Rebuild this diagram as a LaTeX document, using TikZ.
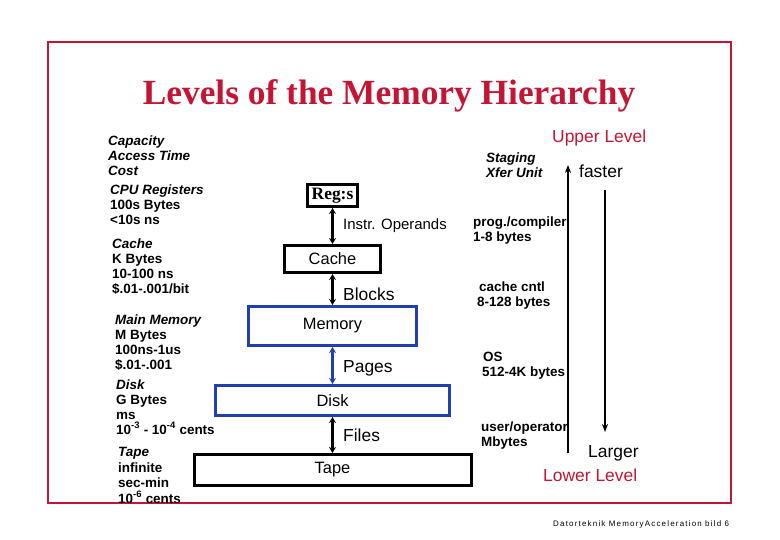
\documentclass[tikz,border=0pt]{standalone}
\usepackage{fontspec}
\setmainfont{Liberation Sans}
\newfontfamily\timesfont{Liberation Serif}
\usetikzlibrary{arrows.meta}
\definecolor{crim}{RGB}{196,22,52}
\definecolor{boxblue}{RGB}{32,64,176}
\tikzset{
  lvlbox/.style={draw=black,line width=3bp,rectangle,inner sep=0pt,font=\fontsize{16.5}{18}\selectfont},
  bluebox/.style={lvlbox,draw=boxblue},
  conn/.style={line width=2.5bp,{Stealth[length=6bp,width=7bp]}-{Stealth[length=6bp,width=7bp]}},
  bconn/.style={conn,draw=boxblue,{Stealth[length=6bp,width=7bp,color=boxblue]}-{Stealth[length=6bp,width=7bp,color=boxblue]}},
  side/.style={anchor=base west,inner sep=0pt,font=\fontsize{13.5}{15}\selectfont\bfseries},
  sidehead/.style={side,font=\fontsize{13.5}{15}\selectfont\bfseries\itshape},
  elabel/.style={anchor=base west,inner sep=0pt,font=\fontsize{17.5}{19}\selectfont},
  biglabel/.style={anchor=base west,inner sep=0pt,font=\fontsize{17.5}{19}\selectfont},
  trend/.style={line width=2bp,-{Stealth[length=8bp,width=6bp]}}
}
\begin{document}
\begin{tikzpicture}[x=1bp,y=-1bp]
\useasboundingbox (0,0) rectangle (780,540);
\fill[white] (0,0) rectangle (780,540);
\draw[crim,line width=2bp] (48,42) rectangle (731,503);
\node[anchor=base,inner sep=0pt,text=crim,font=\timesfont\fontsize{35.5}{38}\selectfont\bfseries] (title) at (389,105) {Levels of the Memory Hierarchy};

% left column
\node[sidehead] (hdr1) at (108,146) {Capacity};
\node[sidehead] (hdr2) at (108,161) {Access Time};
\node[sidehead] (hdr3) at (108,176) {Cost};
\node[sidehead] (cpuh) at (110,195) {CPU Registers};
\node[side] (cpu1) at (110,210) {100s Bytes};
\node[side] (cpu2) at (110,225) {<10s ns};
\node[sidehead] (cacheh) at (112,249) {Cache};
\node[side] (cache1) at (112,264) {K Bytes};
\node[side] (cache2) at (112,279) {10-100 ns};
\node[side] (cache3) at (112,294) {\$.01-.001/bit};
\node[sidehead] (memh) at (115,324) {Main Memory};
\node[side] (mem1) at (115,339) {M Bytes};
\node[side] (mem2) at (115,354) {100ns-1us};
\node[side] (mem3) at (115,369) {\$.01-.001};
\node[sidehead] (diskh) at (116,389) {Disk};
\node[side] (disk1) at (116,404) {G Bytes};
\node[side] (disk2) at (116,419) {ms};
\node[side] (disk3) at (116,434) {10\textsuperscript{-3} - 10\textsuperscript{-4} cents};
\node[sidehead] (tapeh) at (118,456) {Tape};
\node[side] (tape1) at (118,472) {infinite};
\node[side] (tape2) at (118,487) {sec-min};
\node[side] (tape3) at (118,503) {10\textsuperscript{-6} cents};

% boxes
\node[lvlbox,minimum width=50bp,minimum height=22bp,font=\timesfont\fontsize{17.5}{19}\selectfont\bfseries] (reg) at (332.5,195.5) {Reg:s};
\node[lvlbox,minimum width=96bp,minimum height=27bp] (cache) at (332.5,259) {Cache};
\node[bluebox,minimum width=168bp,minimum height=39bp] (mem) at (332.5,326) {Memory};
\node[bluebox,minimum width=234bp,minimum height=30bp] (disk) at (332.5,400.5) {Disk};
\node[lvlbox,minimum width=277bp,minimum height=31bp] (tape) at (332.5,470) {Tape};

\draw[conn] (reg) -- (cache);
\draw[conn] (cache) -- (mem);
\draw[bconn] (mem) -- (disk);
\draw[conn] (disk) -- (tape);

\node[elabel,font=\fontsize{15}{17}\selectfont] (l1) at (343,230) {Instr. Operands};
\node[elabel] (l2) at (343,301) {Blocks};
\node[elabel] (l3) at (343,372) {Pages};
\node[elabel] (l4) at (343,441) {Files};

% right column
\node[sidehead] (stag1) at (486,163) {Staging};
\node[sidehead] (stag2) at (486,178) {Xfer Unit};
\node[side] (r1a) at (473,227) {prog./compiler};
\node[side] (r1b) at (473,242) {1-8 bytes};
\node[side] (r2a) at (479,292) {cache cntl};
\node[side] (r2b) at (477,307) {8-128 bytes};
\node[side] (r3a) at (483,361) {OS};
\node[side] (r3b) at (482,376) {512-4K bytes};
\node[side] (r4a) at (481,431) {user/operator};
\node[side] (r4b) at (481,446) {Mbytes};

\coordinate (upb) at (568,453);
\coordinate (upt) at (568,165);
\coordinate (dnt) at (605,190);
\coordinate (dnb) at (605,432);
\draw[trend] (upb) -- (upt);
\draw[trend] (dnt) -- (dnb);

\node[biglabel,text=crim] (upper) at (552,143) {Upper Level};
\node[biglabel] (faster) at (579,178) {faster};
\node[biglabel] (larger) at (588,457) {Larger};
\node[biglabel,text=crim] (lower) at (543,481) {Lower Level};

\node[anchor=base west,inner sep=0pt,font=\fontsize{8}{9}\selectfont\addfontfeature{LetterSpace=15}] (foot) at (553,526) {Datorteknik MemoryAcceleration bild 6};
\end{tikzpicture}
\end{document}
